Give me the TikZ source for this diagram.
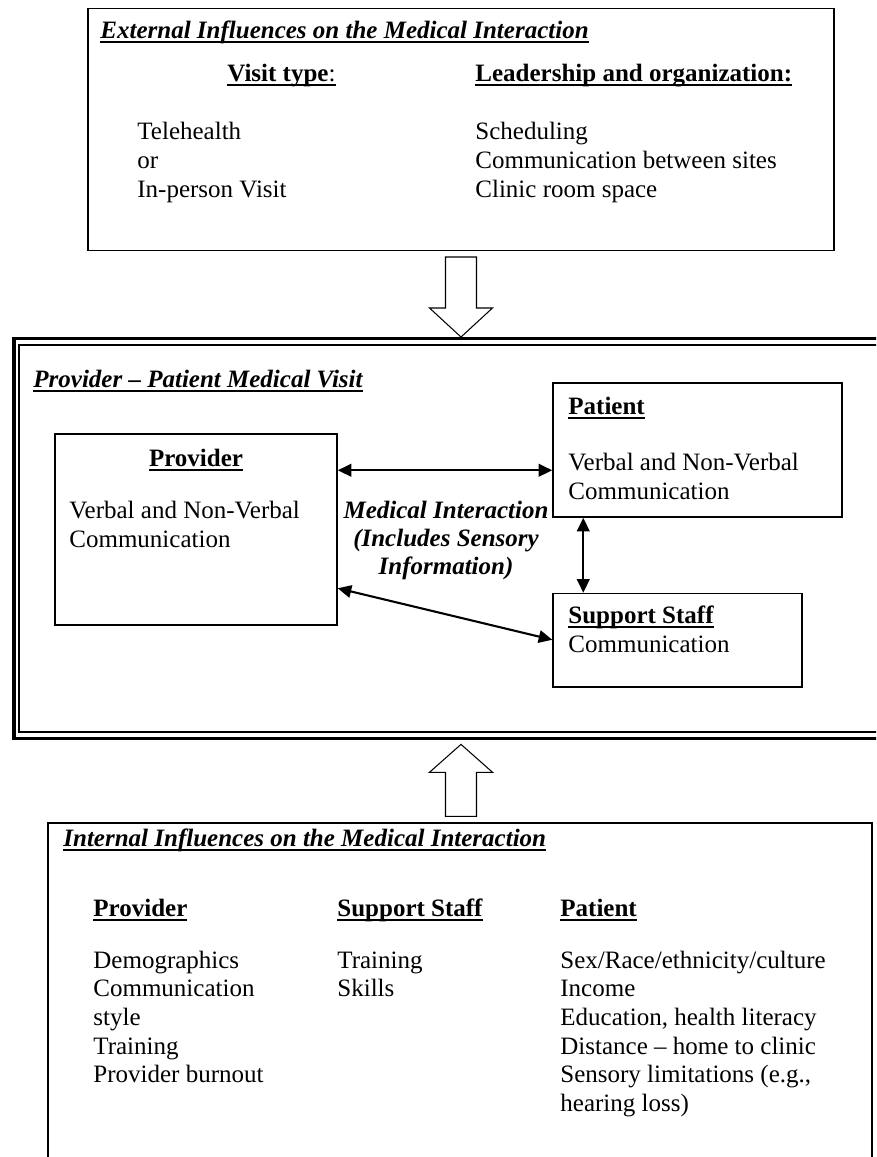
\documentclass[tikz,border=0pt]{standalone}
\usepackage{fontspec}
\setmainfont{Liberation Serif}
\usetikzlibrary{positioning,arrows.meta,calc}

% underline like the word processor does it
\newcommand{\undl}[1]{\setbox0=\hbox{#1}\rlap{\copy0}\rule[-2.2pt]{\wd0}{0.8pt}}
\def\pxu{0.48pt}

\begin{document}
\begin{tikzpicture}[x=0.48pt,y=-0.48pt,font=\fontsize{12}{13.8}\selectfont,
    box/.style={draw,line width=0.7pt,inner sep=0pt},
    txt/.style={anchor=base west,inner sep=0pt},
    head/.style={anchor=base,inner sep=0pt},
    link/.style={{Triangle[length=6.5pt,width=6pt]}-{Triangle[length=6.5pt,width=6pt]},line width=1pt},
    blockarrow/.style={draw,line width=0.5pt,fill=white,line join=miter}]
    \useasboundingbox (0,0) rectangle (876,1157);
    \fill[white] (0,0) rectangle (876,1157);
    \clip (0,0) rectangle (876,1157);

    % Boxes
    \node[box,minimum width=746*\pxu,minimum height=241.5*\pxu] (ext) at (461,129.5) {};
    \node[box,line width=1.6pt,minimum width=885.7*\pxu,minimum height=400*\pxu] (visit) at (457,538.7) {};
    \node[box,line width=0.9pt,minimum width=875.7*\pxu,minimum height=386.7*\pxu] (visitin) at (457,538.7) {};
    \node[box,minimum width=282*\pxu,minimum height=191*\pxu] (prov) at (196,529.5) {};
    \node[box,minimum width=289*\pxu,minimum height=134*\pxu] (pat) at (697.5,450) {};
    \node[box,minimum width=249*\pxu,minimum height=93.5*\pxu] (staff) at (677.5,640.25) {};
    \node[box,minimum width=824*\pxu,minimum height=377*\pxu] (intl) at (460,1011.5) {};

    % External influences
    \node[txt] (exttitle) at (100,38.5) {\undl{\textbf{\textit{External Influences on the Medical Interaction}}}};
    \node[txt] (vtype) at (227,81) {\undl{\textbf{Visit type}:}};
    \node[txt] (lead) at (475,81) {\undl{\textbf{Leadership and organization:}}};
    \foreach \t [count=\i] in {Telehealth, or, In-person Visit}
        \node[txt] (vt\i) at (137,{139+29*(\i-1)}) {\t};
    \foreach \t [count=\i] in {Scheduling, Communication between sites, Clinic room space}
        \node[txt] (org\i) at (475,{139+29*(\i-1)}) {\t};

    % Block arrows
    \coordinate (dtail) at ($(ext.south)+(0,6)$);
    \coordinate (dtip) at (ext.south |- visit.north);
    \draw[blockarrow] ($(dtail)+(-15.5,0)$) -- ($(dtail)+(15.5,0)$) -- ($(dtail)+(15.5,51)$)
        -- ($(dtail)+(31.5,51)$) -- (dtip) -- ($(dtail)+(-31.5,51)$) -- ($(dtail)+(-15.5,51)$) -- cycle;
    \coordinate (utip) at ($(ext.south |- visit.south)+(0,4)$);
    \coordinate (utail) at ($(ext.south |- intl.north)+(0,-6)$);
    \draw[blockarrow] ($(utail)+(-15.5,0)$) -- ($(utail)+(15.5,0)$) -- ($(utail)+(15.5,-44)$)
        -- ($(utail)+(31.5,-44)$) -- (utip) -- ($(utail)+(-31.5,-44)$) -- ($(utail)+(-15.5,-44)$) -- cycle;

    % Medical visit
    \node[txt] (visittitle) at (33,387.5) {\undl{\textbf{\textit{Provider – Patient Medical Visit}}}};
    \node[head] (provhead) at (196,466) {\undl{\textbf{Provider}}};
    \node[txt] (provtext1) at (69,518) {Verbal and Non-Verbal};
    \node[txt] (provtext2) at (69,547) {Communication};
    \node[txt] (pathead) at (568,414) {\undl{\textbf{Patient}}};
    \node[txt] (pattext1) at (568,470) {Verbal and Non-Verbal};
    \node[txt] (pattext2) at (568,499) {Communication};
    \node[txt] (staffhead) at (568,623) {\undl{\textbf{Support Staff}}};
    \node[txt] (stafftext) at (568,652) {Communication};
    \foreach \t [count=\i] in {{Medical Interaction}, {(Includes Sensory}, {Information)}}
        \node[head] (mi\i) at (446,{518+28*(\i-1)}) {\bfseries\itshape\t};

    % Interactions
    \draw[link] ($(prov.north east)+(0,37)$) -- ($(pat.north west)+(0,88)$);
    \draw[link] ($(pat.south west)+(31,0)$) -- ($(staff.north west)+(31,0)$);
    \draw[link] ($(prov.north east)+(0,155)$) -- ($(staff.north west)+(0,47)$);

    % Internal influences
    \node[txt] (intltitle) at (63,846) {\undl{\textbf{\textit{Internal Influences on the Medical Interaction}}}};
    \node[txt] (iprov) at (93,916) {\undl{\textbf{Provider}}};
    \node[txt] (istaff) at (337,916) {\undl{\textbf{Support Staff}}};
    \node[txt] (ipat) at (560,916) {\undl{\textbf{Patient}}};
    \foreach \t [count=\i] in {Demographics, Communication, style, Training, Provider burnout}
        \node[txt] (ip\i) at (93,{968+28.7*(\i-1)}) {\t};
    \foreach \t [count=\i] in {Training, Skills}
        \node[txt] (is\i) at (337,{968+28.7*(\i-1)}) {\t};
    \foreach \t [count=\i] in {Sex/Race/ethnicity/culture, Income, {Education, health literacy},
        Distance – home to clinic, {Sensory limitations (e.g.,}, {hearing loss)}}
        \node[txt] (ia\i) at (560,{968+28.7*(\i-1)}) {\t};
\end{tikzpicture}
\end{document}
